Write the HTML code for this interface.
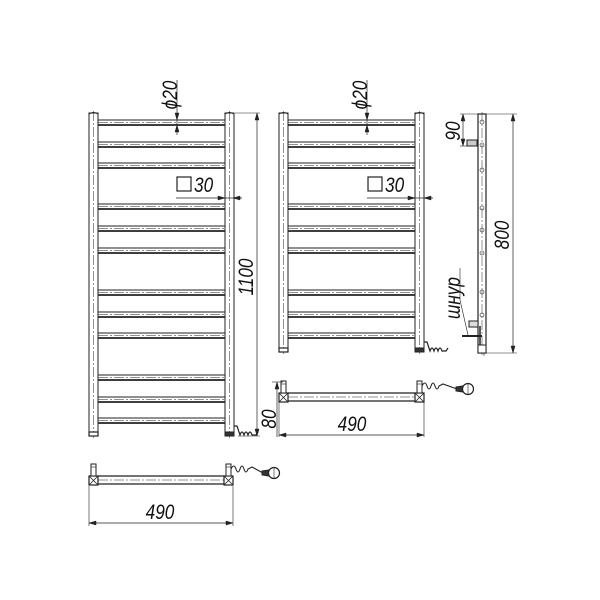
<!DOCTYPE html>
<html><head><meta charset="utf-8"><style>
html,body{margin:0;padding:0;background:#fff;width:600px;height:600px;overflow:hidden}
svg{display:block}
text{font-family:"Liberation Sans",sans-serif;font-style:italic;fill:#111}
</style></head><body>
<svg id="s" width="600" height="600" viewBox="0 0 600 600" xmlns="http://www.w3.org/2000/svg">
<g id="g" stroke="#222" fill="none" stroke-width="1"></g>
<text transform="translate(177,95) rotate(-90) scale(0.82,1)" font-size="21" text-anchor="middle">ϕ20</text>
<text transform="translate(367,95) rotate(-90) scale(0.82,1)" font-size="21" text-anchor="middle">ϕ20</text>
<text transform="translate(194,192) scale(0.82,1)" font-size="21">30</text>
<text transform="translate(385,192) scale(0.82,1)" font-size="21">30</text>
<text transform="translate(253,277) rotate(-90) scale(0.82,1)" font-size="21" text-anchor="middle">1100</text>
<text transform="translate(276,419) rotate(-90) scale(0.82,1)" font-size="21" text-anchor="middle">80</text>
<text transform="translate(352,431) scale(0.82,1)" font-size="21" text-anchor="middle">490</text>
<text transform="translate(160,519) scale(0.82,1)" font-size="21" text-anchor="middle">490</text>
<text transform="translate(509,235) rotate(-90) scale(0.82,1)" font-size="21" text-anchor="middle">800</text>
<text transform="translate(460,131) rotate(-90) scale(0.82,1)" font-size="21" text-anchor="middle">90</text>
<text transform="translate(460,298) rotate(-90) scale(0.82,1)" font-size="21" text-anchor="middle">шнур</text>
</svg>
<script>
var g=document.getElementById('g'),NS='http://www.w3.org/2000/svg';
function el(t,a){var e=document.createElementNS(NS,t);for(var k in a)e.setAttribute(k,a[k]);g.appendChild(e);return e;}
function L(x1,y1,x2,y2,w,d){var a={x1:x1,y1:y1,x2:x2,y2:y2};if(w)a['stroke-width']=w;if(d)a['stroke-dasharray']=d;return el('line',a);}
function R(x,y,w,h,f,sw){return el('rect',{x:x,y:y,width:w,height:h,fill:f||'none','stroke-width':sw||1});}
function arrow(x,y,dir){
 var p; if(dir=='d')p=[x,y,x-2,y-7,x+2,y-7]; if(dir=='u')p=[x,y,x-2,y+7,x+2,y+7];
 if(dir=='r')p=[x,y,x-7,y-2,x-7,y+2]; if(dir=='l')p=[x,y,x+7,y-2,x+7,y+2];
 el('polygon',{points:p.join(','),fill:'#222','stroke-width':0.5});}
var dd='10 2 2 2';
function front(x0,x1,top,bot,bars){
 R(x0,top,9,bot-top); R(x1,top,9,bot-top);
 L(x0+4.5,top-2,x0+4.5,bot+2,0.5,dd); L(x1+4.5,top-2,x1+4.5,bot+2,0.5,dd);
 R(x0,bot-4,9,4,'#fff',1.2); R(x1,bot-4,9,4,'#333',1);
 el('path',{d:'M'+x0+' '+(top+1)+' q4.5 -3 9 0 M'+x1+' '+(top+1)+' q4.5 -3 9 0'});
 bars.forEach(function(y){
  L(x0+9,y,x1,y,1); L(x0+9,y+5,x1,y+5,1.8);
  L(x0+9,y+2.5,x1,y+2.5,0.5,dd);
 });
 var cx=x1+9,cy=bot-10;
 el('path',{d:'M'+cx+' '+cy+' l3 0 l3 9 q2 -6 4 0 q2 -6 4 0 q2 -6 4 0 l4 0 l2 -3','stroke-width':1.2});
}
front(89,225,113,436,[120,142,163,204,226,248,290,312,333,375,397,418]);
front(279,415,113,352,[120,142,163,204,226,248,290,312,333]);
L(177,80,177,135,0.7);arrow(177,120,'d');arrow(177,125,'u');
L(367,80,367,135,0.7);arrow(367,120,'d');arrow(367,125,'u');
R(177,177,14,14,'none',1.2);R(368,177,14,14,'none',1.2);
L(176,198,242,198,0.7);arrow(225,198,'r');arrow(233,198,'l');
L(367,198,433,198,0.7);arrow(415,198,'r');arrow(424,198,'l');
L(235,113,260,113,0.6);L(257,113,257,436,0.7);arrow(257,113,'u');arrow(257,436,'d');
L(238,436,260,436,0.6);
function topv(x0,x1,y,plugx,plugy){
 L(x0+9,y,x1,y,1.2);L(x0+9,y+8,x1,y+8,1.2);L(x0+9,y+4,x1,y+4,0.5,dd);
 [x0,x1].forEach(function(x){R(x,y,9,9,'#fff',1.2);L(x,y,x+9,y+9,0.8);L(x+9,y,x,y+9,0.8);
   R(x+2,y-12,5,12,'#fff',1);L(x+2,y-9,x+7,y-9,0.6);});
 var cx=x1+7,cy=y-7;
 el('path',{d:'M'+cx+' '+cy+' q3 -6 5 0 q2 6 4 0 q2 -6 4 0 q2 6 4 0 l4 -2 L'+(plugx-11)+' '+plugy,'stroke-width':1.1});
 el('path',{d:'M'+(plugx-12)+' '+(plugy-2)+' l7 -1 l0 6 l-7 -1 z','fill':'#333'});
 el('circle',{cx:plugx,cy:plugy,r:5.5,fill:'#fff','stroke-width':1.2});
 L(plugx,plugy-5.5,plugx,plugy+5.5,0.6);
}
topv(279,415,393,468,389);
topv(89,224,476,274,473);
L(272,382,283,382,0.6);L(277,382,277,437,0.7);arrow(277,382,'u');
L(279,402,279,437,0.6);L(424,402,424,437,0.6);L(279,435,424,435,0.7);arrow(279,435,'l');arrow(424,435,'r');
L(89,486,89,526,0.6);L(233,486,233,526,0.6);L(89,523,233,523,0.7);arrow(89,523,'l');arrow(233,523,'r');
R(478,114,8,239,'none',1.2);L(482,112,482,355,0.5,dd);
[122,145,170,208,230,253,292,315].forEach(function(y){el('circle',{cx:482,cy:y,r:2,'stroke-width':0.6});});
R(467,140,10,6,'#ccc',1);R(469,321,9,6,'#ddd',1);
L(462,336,482,336,2);L(480,326,480,345,1.5);R(478,345,8,8,'#fff',1);
L(484,353,484,356,0.6);
L(460,268,460,300,0.6);L(460,300,468,335,0.6);
L(486,114,517,114,0.6);L(486,353,517,353,0.6);L(513,114,513,353,0.7);arrow(513,114,'u');arrow(513,353,'d');
L(460,114,478,114,0.6);L(463,114,463,146,0.7);arrow(463,114,'u');arrow(463,146,'d');L(460,146,467,146,0.6);
</script>
</body></html>
